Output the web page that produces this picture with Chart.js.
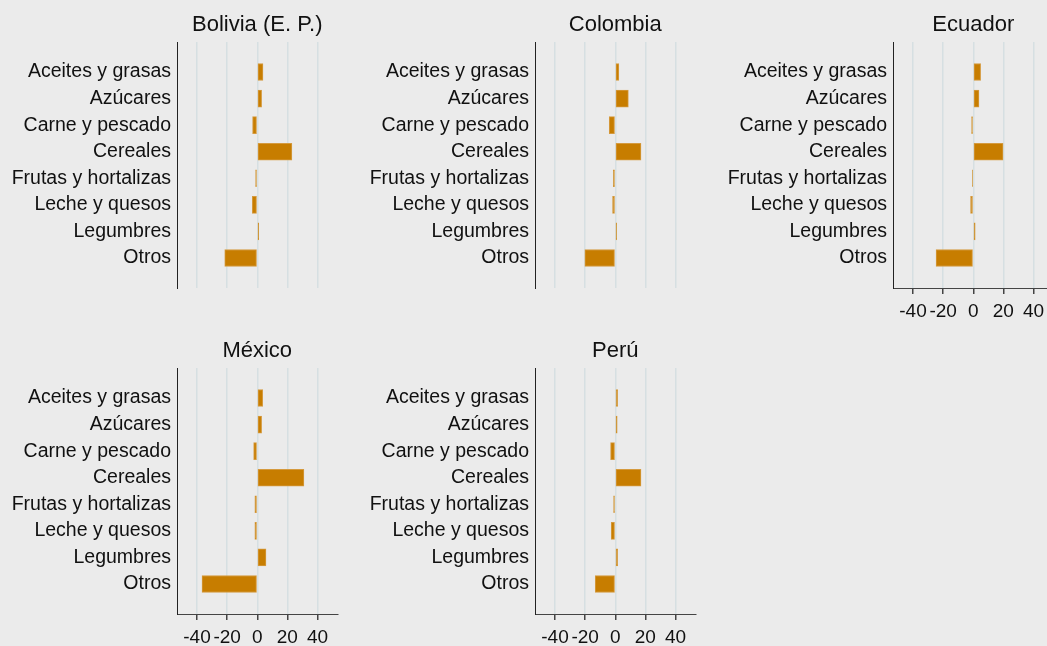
<!DOCTYPE html>
<html lang="es">
<head>
  <meta charset="UTF-8" />
  <title>Cambio por grupo de alimentos</title>
  <script src="https://cdn.jsdelivr.net/npm/chart.js"></script>
  <style>
    html, body { margin: 0; padding: 0; background: #ebebeb; overflow: hidden; width: 1047px; height: 646px; }
    .panel { position: absolute; width: 345px; height: 326px; }
  </style>
</head>
<body>
  <div class="panel" style="left:0;top:0"><canvas id="c0" width="345" height="326"></canvas></div>
  <div class="panel" style="left:358px;top:0"><canvas id="c1" width="345" height="326"></canvas></div>
  <div class="panel" style="left:716px;top:0"><canvas id="c2" width="345" height="326"></canvas></div>
  <div class="panel" style="left:0;top:326px"><canvas id="c3" width="345" height="326"></canvas></div>
  <div class="panel" style="left:358px;top:326px"><canvas id="c4" width="345" height="326"></canvas></div>

  <script>
    const categories = ['Aceites y grasas', 'Azúcares', 'Carne y pescado', 'Cereales',
      'Frutas y hortalizas', 'Leche y quesos', 'Legumbres', 'Otros'];
    const xTicks = [-40, -20, 0, 20, 40];

    const bolivia  = [3.8, 2.9, -3.1, 23.0, -1.1, -3.3, 1.0, -21.6];
    const colombia = [2.4, 8.7, -4.0, 17.1, -1.3, -1.8, 0.9, -20.2];
    const ecuador  = [4.9, 3.8, -1.1, 19.8, -0.6, -1.8, 1.3, -24.7];
    const mexico   = [3.6, 2.9, -2.4, 31.0, -1.6, -1.6, 5.8, -36.7];
    const peru     = [1.6, 1.3, -3.1, 17.1, -1.1, -2.7, 1.6, -13.3];

    const panels = [
      { id: 'c0', title: 'Bolivia (E. P.)', values: bolivia, xAxis: false },
      { id: 'c1', title: 'Colombia', values: colombia, xAxis: false },
      { id: 'c2', title: 'Ecuador', values: ecuador, xAxis: true },
      { id: 'c3', title: 'México', values: mexico, xAxis: true },
      { id: 'c4', title: 'Perú', values: peru, xAxis: true }
    ];

    const font = "'Liberation Sans', Arial, sans-serif";

    function makePanel(p) {
      new Chart(document.getElementById(p.id), {
        type: 'bar',
        data: {
          datasets: [{
            data: p.values.map((v, i) => ({ x: v, y: i })),
            backgroundColor: '#c77d00',
            borderColor: '#d59a3e',
            borderWidth: 1,
            borderSkipped: false,
            barThickness: 17
          }]
        },
        options: {
          indexAxis: 'y',
          responsive: false,
          animation: false,
          events: [],
          layout: { padding: { top: 0, right: 7.5, bottom: 0, left: 0 } },
          plugins: {
            legend: { display: false },
            tooltip: { enabled: false },
            title: {
              display: true,
              text: p.title,
              fullSize: false,
              color: '#111',
              font: { family: font, size: 22, weight: 'normal', lineHeight: 1.2 },
              padding: { top: 11.6, bottom: 4 }
            }
          },
          scales: {
            x: {
              type: 'linear',
              min: -53.3,
              max: 53.3,
              afterBuildTicks: s => { s.ticks = xTicks.map(v => ({ value: v })); },
              afterFit: s => { s.height = 38; },
              grid: {
                color: '#d6dfe2',
                lineWidth: 1.5,
                drawTicks: p.xAxis,
                tickColor: '#444',
                tickLength: 6
              },
              border: { display: p.xAxis, color: '#444', width: 1 },
              ticks: {
                display: p.xAxis,
                autoSkip: false,
                maxRotation: 0,
                padding: 6,
                color: '#111',
                font: { family: font, size: 19 }
              }
            },
            y: {
              type: 'linear',
              offset: false,
              reverse: true,
              min: -1.13,
              max: 8.13,
              afterBuildTicks: s => { s.ticks = categories.map((c, i) => ({ value: i })); },
              afterFit: s => { s.width = 177; },
              grid: { color: 'rgba(0,0,0,0)', drawTicks: false },
              border: { display: true, color: '#222', width: 1 },
              ticks: {
                autoSkip: false,
                padding: 6,
                color: '#111',
                font: { family: font, size: 19.5 },
                callback: v => categories[v]
              }
            }
          }
        }
      });
    }

    panels.forEach(makePanel);
  </script>
</body>
</html>
